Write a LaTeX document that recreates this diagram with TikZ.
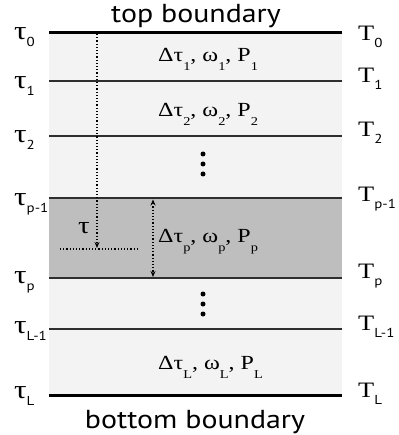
\documentclass[tikz,border=0pt]{standalone}
\usepackage{fontspec}
\setmainfont{Liberation Serif}
\newfontfamily\labserif[FakeStretch=1.2]{Liberation Serif}
\newfontfamily\labsans[FakeStretch=1.15]{PT Sans}
\usetikzlibrary{arrows.meta}
\definecolor{lightband}{HTML}{F3F3F3}
\definecolor{darkband}{HTML}{BEBEBE}
\definecolor{linecol}{HTML}{2E2E2E}
\newcommand\lsub[1]{\raisebox{-7pt}{\labsans\fontsize{13}{13}\selectfont #1}}
\newcommand\msub[1]{\raisebox{-9pt}{\labserif\fontsize{12}{12}\selectfont #1}}
\begin{document}
\begin{tikzpicture}[x=1pt,y=-1pt,
  layerline/.style={draw=linecol,line width=1.6pt},
  boundline/.style={draw=black,line width=3pt},
  tlab/.style={anchor=base west,inner sep=0pt,font=\labserif\fontsize{26}{26}\selectfont},
  Tlab/.style={anchor=base west,inner sep=0pt,font=\labserif\fontsize{22}{22}\selectfont},
  midlab/.style={anchor=base west,inner sep=0pt,font=\labserif\fontsize{20}{20}\selectfont},
  bndlab/.style={anchor=base,inner sep=0pt,font=\labsans\fontsize{26}{26}\selectfont},
  dotarrow/.style={draw=black,line width=1.2pt,dotted},
  tip/.style={-{Stealth[length=6pt,width=5pt]}},
  ell/.style={circle,fill=black,inner sep=0pt,minimum size=5pt}]
\useasboundingbox (0,0) rectangle (398,435);
\fill[lightband] (49,33) rectangle (342,395);
\fill[darkband] (49,198) rectangle (342,278);
% layer boundaries
\coordinate (l0) at (49,33);  \coordinate (r0) at (342,33);
\coordinate (l1) at (49,81);  \coordinate (r1) at (342,81);
\coordinate (l2) at (49,136); \coordinate (r2) at (342,136);
\coordinate (lp1) at (49,198); \coordinate (rp1) at (342,198);
\coordinate (lp) at (49,278); \coordinate (rp) at (342,278);
\coordinate (lL1) at (49,329); \coordinate (rL1) at (342,329);
\coordinate (lL) at (49,395); \coordinate (rL) at (342,395);
\draw[boundline] (l0) -- (r0);
\draw[layerline] (l1) -- (r1);
\draw[layerline] (l2) -- (r2);
\draw[layerline] (lp1) -- (rp1);
\draw[layerline] (lp) -- (rp);
\draw[layerline] (lL1) -- (rL1);
\draw[boundline] (lL) -- (rL);
% boundary labels
\node[bndlab] (top) at (196,23) {top boundary};
\node[bndlab] (bot) at (195,428) {bottom boundary};
% left tau labels
\node[tlab] (t0) at (14,40) {τ\lsub{0}};
\node[tlab] (t1) at (14,89) {τ\lsub{1}};
\node[tlab] (t2) at (14,143) {τ\lsub{2}};
\node[tlab] (tp1) at (14,205) {τ\lsub{p-1}};
\node[tlab] (tp) at (14,283) {τ\lsub{p}};
\node[tlab] (tL1) at (14,333) {τ\lsub{L-1}};
\node[tlab] (tL) at (14,398) {τ\lsub{L}};
% right T labels
\node[Tlab] (T0) at (358,41) {T\lsub{0}};
\node[Tlab] (T1) at (358,83) {T\lsub{1}};
\node[Tlab] (T2) at (358,137) {T\lsub{2}};
\node[Tlab] (Tp1) at (358,201) {T\lsub{p-1}};
\node[Tlab] (Tp) at (358,278) {T\lsub{p}};
\node[Tlab] (TL1) at (358,330) {T\lsub{L-1}};
\node[Tlab] (TL) at (358,397) {T\lsub{L}};
% middle labels
\node[midlab] (m1) at (158,62) {Δτ\msub{1}, ω\msub{1}, P\msub{1}};
\node[midlab] (m2) at (158,117) {Δτ\msub{2}, ω\msub{2}, P\msub{2}};
\node[midlab] (mp) at (158,242) {Δτ\msub{p}, ω\msub{p}, P\msub{p}};
\node[midlab] (mL) at (158,369) {Δτ\msub{L}, ω\msub{L}, P\msub{L}};
% ellipses
\node[ell] (e1a) at (203,154) {};
\node[ell] (e1b) at (203,164) {};
\node[ell] (e1c) at (203,174) {};
\node[ell] (e2a) at (203,294) {};
\node[ell] (e2b) at (203,304) {};
\node[ell] (e2c) at (203,314) {};
% tau arrow
\coordinate (vtop) at (97,34);
\coordinate (vbot) at (97,248);
\coordinate (hl) at (60,249);
\coordinate (hr) at (137,249);
\draw[dotarrow,tip] (vtop) -- (vbot);
\draw[dotarrow] (hl) -- (hr);
\node[anchor=base,inner sep=0pt,font=\labserif\fontsize{24}{24}\selectfont] (tau) at (84,233) {τ};
% delta tau arrow
\coordinate (dtop) at (153,199.5);
\coordinate (dbot) at (153,277);
\draw[dotarrow,{Stealth[length=6pt,width=5pt]}-{Stealth[length=6pt,width=5pt]}] (dtop) -- (dbot);
\end{tikzpicture}
\end{document}
